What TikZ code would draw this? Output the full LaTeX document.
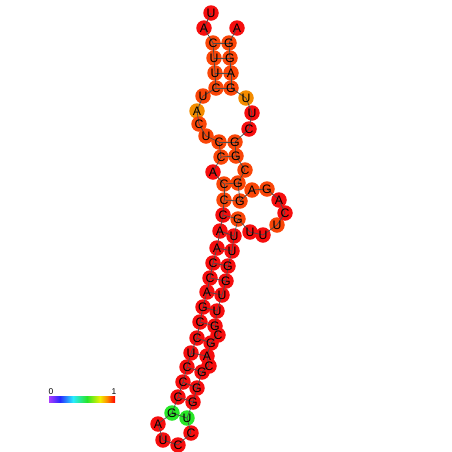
\documentclass[tikz,border=0pt]{standalone}
\usepackage{fontspec}
\setmainfont{Liberation Sans}
\definecolor{ntred}{RGB}{246,14,14}
\definecolor{ntora}{RGB}{250,70,8}
\definecolor{ntyel}{RGB}{244,140,0}
\definecolor{ntgrn}{RGB}{40,232,40}
\definecolor{lgpur}{RGB}{170,60,255}
\definecolor{lgblu}{RGB}{40,40,255}
\definecolor{lgcya}{RGB}{40,235,255}
\definecolor{lggrn}{RGB}{40,230,40}
\definecolor{lgyel}{RGB}{240,240,0}
\definecolor{lgora}{RGB}{255,140,0}
\definecolor{lgred}{RGB}{255,0,0}
\tikzset{
  nt/.style={circle, inner sep=0pt, minimum size=3.1mm, draw=none},
  bb/.style={black!70, line width=0.4pt},
  ltr/.style={font=\fontsize{7}{7}\selectfont, inner sep=0pt},
  legtxt/.style={font=\fontsize{4.8}{5}\selectfont, inner sep=0pt},
}
\def\ntlist{1/211/13/U/ntred, 2/204/28/A/ntred, 3/213/43/C/ntora, 4/214/58/U/ntora,
  5/215/73/U/ntora, 6/216/88/C/ntora, 7/203/96/U/ntora, 8/197/111/A/ntyel,
  9/199/124/C/ntora, 10/206/136/U/ntora, 11/219/142/C/ntora, 12/221/157/C/ntora,
  13/213/172/A/ntred, 14/224/184/C/ntora, 15/224/200/C/ntora, 16/223/215/C/ntred,
  17/220/231/A/ntred, 18/217/248/A/ntred, 19/213/263/C/ntred, 20/210/278/C/ntred,
  21/207/292/A/ntred, 22/203/307/G/ntred, 23/200/322/C/ntred, 24/197/338/C/ntred,
  25/191/353/U/ntred, 26/187/367/C/ntred, 27/183/382/C/ntred, 28/178/397/C/ntred,
  29/172/413/G/ntgrn, 30/158/424/A/ntred, 31/163/440/U/ntred, 32/178/445/C/ntred,
  33/191/433/C/ntred, 34/187/418/U/ntgrn, 35/193/402/G/ntred, 36/197/388/G/ntred,
  37/202/372/G/ntred, 38/209/366/C/ntred, 39/207/356/A/ntred, 40/211/343/G/ntred,
  41/218/335/C/ntred, 42/215/326/G/ntred, 43/217/311/U/ntred, 44/222/295/U/ntred,
  45/226/281/G/ntred, 46/228/266/G/ntred, 47/232/251/U/ntred, 48/234/236/U/ntred,
  49/238/219/G/ntora, 50/250/232/U/ntred, 51/263/235/U/ntred, 52/277/225/U/ntora,
  53/285/213/C/ntred, 54/279/200/A/ntred, 55/267/189/G/ntora, 56/252/190/A/ntora,
  57/240/201/G/ntora, 58/238/183/G/ntora, 59/245/170/C/ntora, 60/236/156/G/ntora,
  61/235/142/G/ntora, 62/249/129/C/ntred, 63/252/113/U/ntred, 64/246/98/U/ntyel,
  65/231/88/G/ntora, 66/231/73/A/ntora, 67/230/58/G/ntora, 68/229/43/G/ntora,
  69/237/28/A/ntred}

\begin{document}
\begin{tikzpicture}[x=0.2mm, y=-0.2mm]
  \useasboundingbox (0,0) rectangle (452,452);
  \foreach \n/\x/\y/\l/\c in \ntlist {\node[nt, fill=\c] (n\n) at (\x,\y) {};}
  \foreach \i [count=\j from 2] in {1,...,68} {\draw[bb] (n\i.center) -- (n\j.center);}
  \foreach \p/\q in {3/68, 4/67, 5/66, 6/65, 11/61, 12/60, 14/58, 15/57, 16/49, 17/48,
    18/47, 19/46, 20/45, 21/44, 22/43, 23/42, 24/40, 25/39, 26/37, 27/36, 28/35, 29/34}
    {\draw[bb] (n\p.center) -- (n\q.center);}
  \foreach \n/\x/\y/\l/\c in \ntlist {\node[ltr] at (n\n) {\l};}
  % colour scale
  \shade[left color=lgpur, right color=lgblu] (49,396) rectangle (60,402);
  \shade[left color=lgblu, right color=lgcya] (60,396) rectangle (73,402);
  \shade[left color=lgcya, right color=lggrn] (73,396) rectangle (87,402);
  \shade[left color=lggrn, right color=lgyel] (87,396) rectangle (100,402);
  \shade[left color=lgyel, right color=lgora] (100,396) rectangle (107,402);
  \shade[left color=lgora, right color=lgred] (107,396) rectangle (115,402);
  \node[legtxt] (lo) at (51,392) {0};
  \node[legtxt] (hi) at (114,392) {1};
\end{tikzpicture}
\end{document}
